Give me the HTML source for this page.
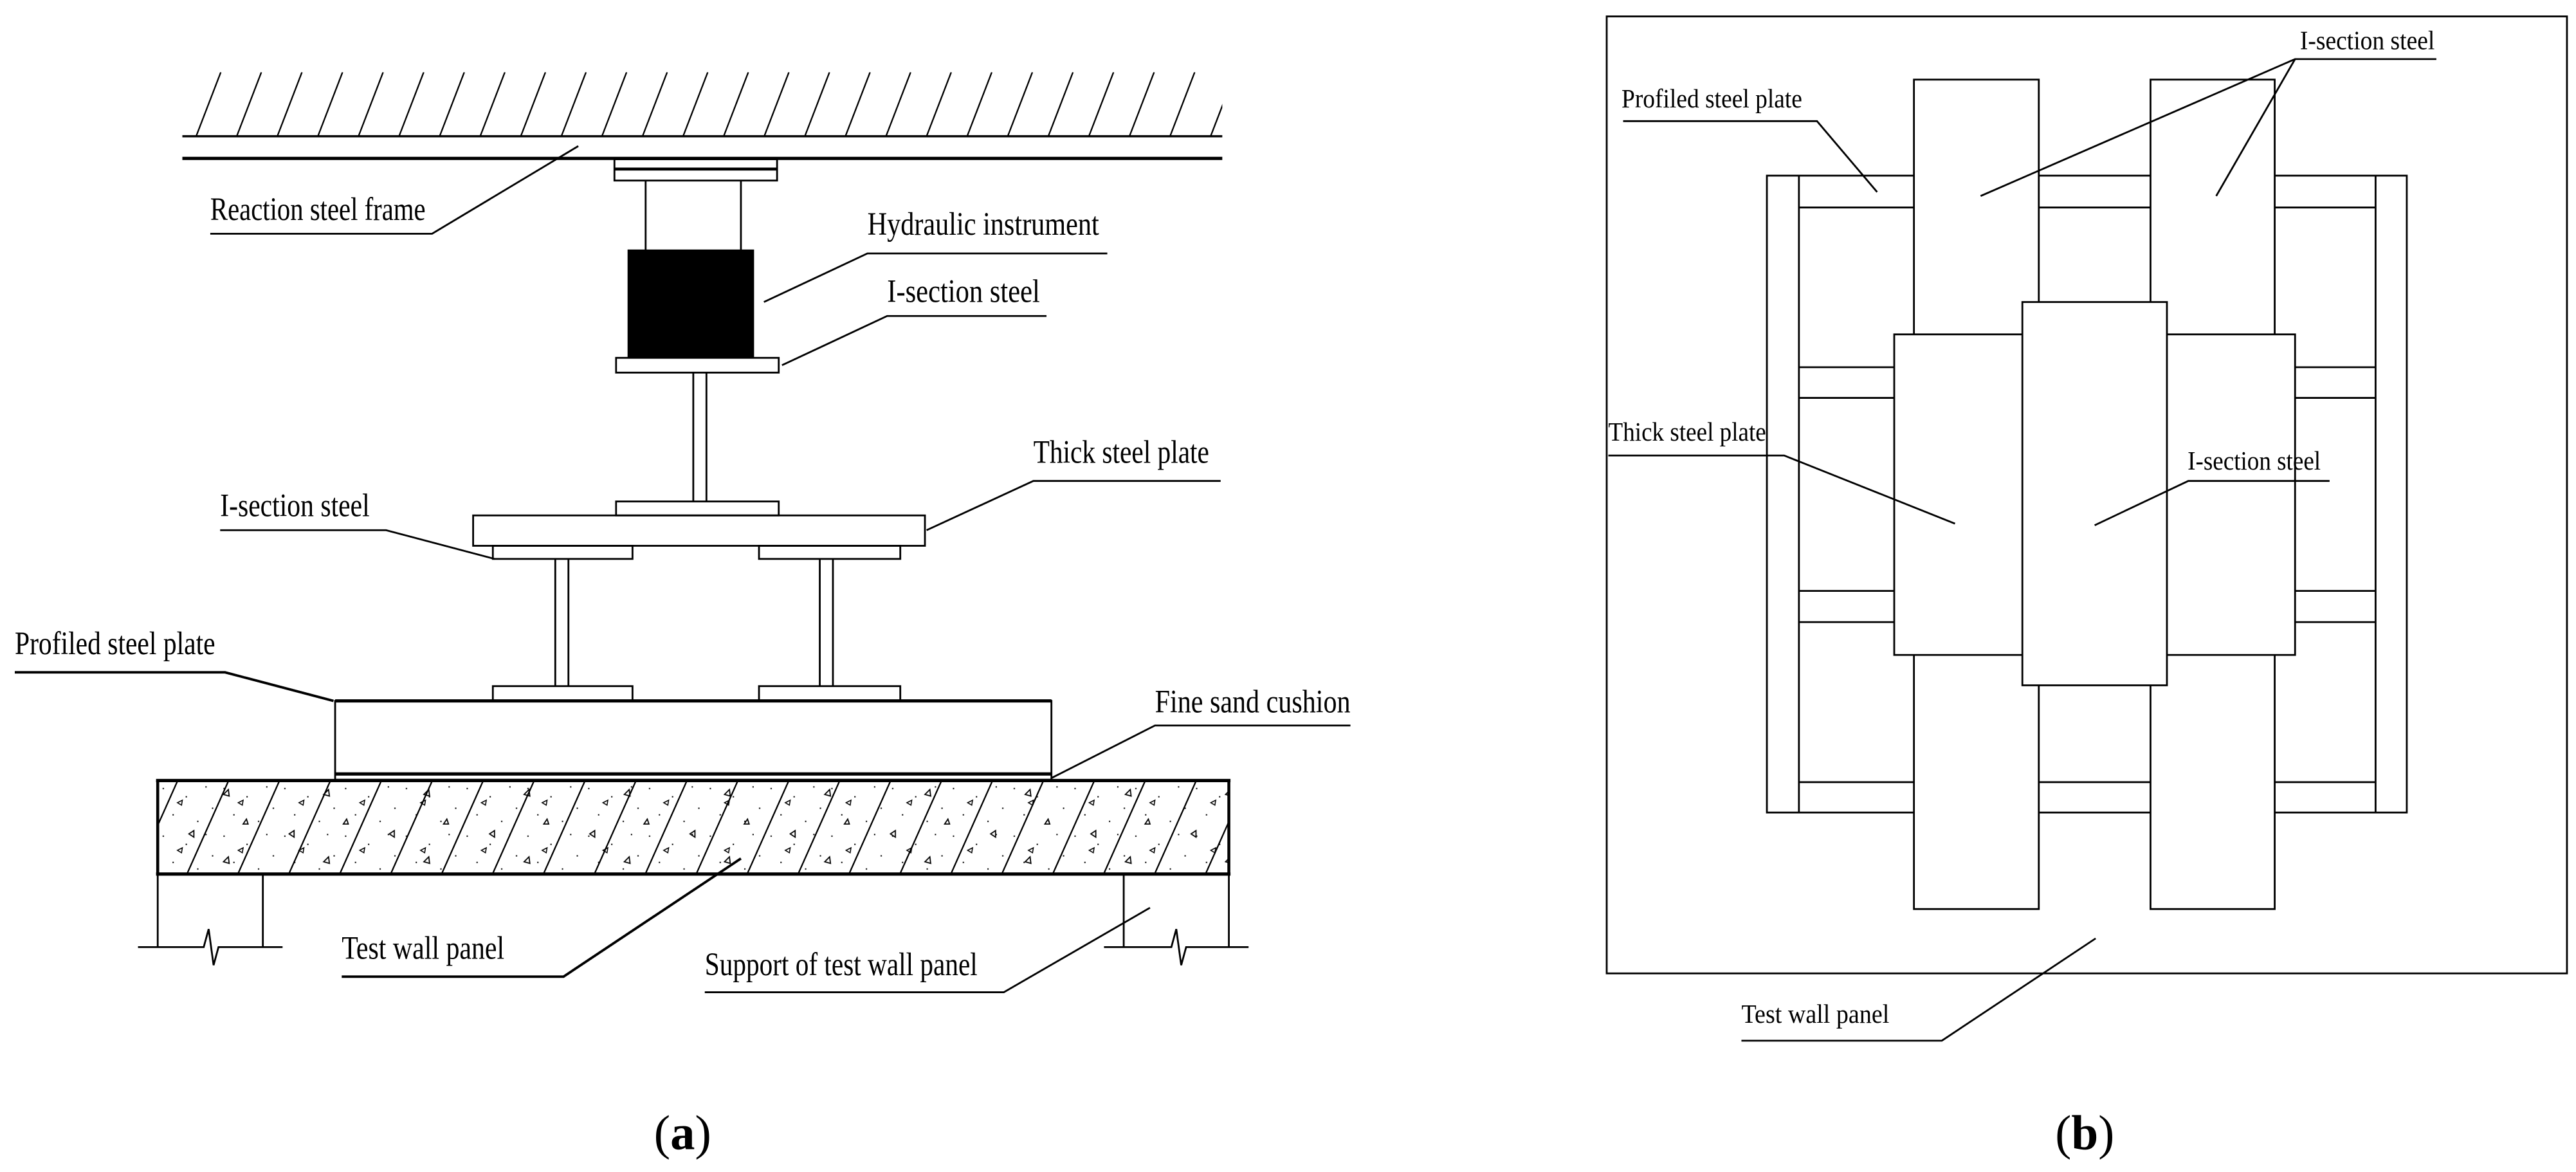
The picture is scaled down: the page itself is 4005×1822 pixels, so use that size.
<!DOCTYPE html>
<html><head><meta charset="utf-8"><style>
html,body{margin:0;padding:0;background:#fff;}
svg{display:block;}
text{font-family:"Liberation Serif",serif;fill:#000;}
</style></head><body>
<svg width="4005" height="1822" viewBox="0 0 1568 714" preserveAspectRatio="none" xmlns="http://www.w3.org/2000/svg">
<defs>
<clipPath id="ch"><rect x="111" y="44" width="633" height="39"/></clipPath>
<clipPath id="cw"><rect x="96" y="476" width="652" height="56"/></clipPath>
<pattern id="dots" x="96" y="476" width="37" height="29" patternUnits="userSpaceOnUse">
<rect x="3" y="4" width="0.8" height="0.8" fill="#000"/><rect x="17" y="9" width="0.8" height="0.8" fill="#000"/>
<rect x="29" y="3" width="0.8" height="0.8" fill="#000"/><rect x="9" y="20" width="0.8" height="0.8" fill="#000"/>
<rect x="24" y="24" width="0.8" height="0.8" fill="#000"/><rect x="33" y="16" width="0.8" height="0.8" fill="#000"/>
<path d="M12 13 l3 -1.5 l-0.5 3 z" fill="none" stroke="#000" stroke-width="0.6"/>
</pattern>
<pattern id="tri" x="96" y="476" width="61" height="41" patternUnits="userSpaceOnUse">
<path d="M40 8 l3 -3 l0.5 4 z M22 30 l-3 2 l3 2 z M52 26 l2 -3 l1 3 z" fill="none" stroke="#000" stroke-width="0.7"/>
</pattern>
</defs>
<g stroke="#000" fill="none" stroke-width="1.1">
<!-- top hatch -->
<g clip-path="url(#ch)" stroke-width="0.9">
<path d="M94.7 83 l15 -39 M119.4 83 l15 -39 M144.1 83 l15 -39 M168.8 83 l15 -39 M193.5 83 l15 -39 M218.2 83 l15 -39 M242.9 83 l15 -39 M267.6 83 l15 -39 M292.3 83 l15 -39 M317 83 l15 -39 M341.7 83 l15 -39 M366.4 83 l15 -39 M391.1 83 l15 -39 M415.8 83 l15 -39 M440.5 83 l15 -39 M465.2 83 l15 -39 M489.9 83 l15 -39 M514.6 83 l15 -39 M539.3 83 l15 -39 M564 83 l15 -39 M588.7 83 l15 -39 M613.4 83 l15 -39 M638.1 83 l15 -39 M662.8 83 l15 -39 M687.5 83 l15 -39 M712.2 83 l15 -39 M736.9 83 l15 -39"/>
</g>
<line x1="111" y1="83" x2="744" y2="83" stroke-width="1.3"/>
<line x1="111" y1="96.5" x2="744" y2="96.5" stroke-width="2"/>
<!-- top plate -->
<rect x="374" y="97" width="99" height="13"/>
<line x1="374" y1="103" x2="473" y2="103" stroke-width="1.8"/>
<line x1="393" y1="110" x2="393" y2="153"/><line x1="451" y1="110" x2="451" y2="153"/>
<rect x="382" y="152" width="77" height="66" fill="#000" stroke="none"/>
<rect x="375" y="218" width="99" height="9" fill="#fff"/>
<line x1="422" y1="227" x2="422" y2="305.5"/><line x1="430" y1="227" x2="430" y2="305.5"/>
<rect x="375" y="305.5" width="99" height="8.5"/>
<rect x="288" y="314" width="275" height="18.5"/>
<rect x="300" y="332.5" width="85" height="8"/><rect x="462" y="332.5" width="86" height="8"/>
<line x1="338" y1="340.5" x2="338" y2="418"/><line x1="346" y1="340.5" x2="346" y2="418"/>
<line x1="499" y1="340.5" x2="499" y2="418"/><line x1="507" y1="340.5" x2="507" y2="418"/>
<rect x="300" y="418" width="85" height="9"/><rect x="462" y="418" width="86" height="9"/>
<!-- profiled plate -->
<rect x="204" y="427" width="436" height="48"/>
<line x1="204" y1="427" x2="640" y2="427" stroke-width="2"/>
<line x1="204" y1="471.5" x2="640" y2="471.5" stroke-width="2"/>
<!-- wall panel -->
<rect x="96" y="476" width="652" height="56" fill="url(#dots)" stroke="none"/>
<rect x="96" y="476" width="652" height="56" fill="url(#tri)" stroke="none"/>
<g clip-path="url(#cw)" stroke-width="0.9">
<path d="M83 532 l25.4 -57 M114 532 l25.4 -57 M145 532 l25.4 -57 M176 532 l25.4 -57 M207 532 l25.4 -57 M238 532 l25.4 -57 M269 532 l25.4 -57 M300 532 l25.4 -57 M331 532 l25.4 -57 M362 532 l25.4 -57 M393 532 l25.4 -57 M424 532 l25.4 -57 M455 532 l25.4 -57 M486 532 l25.4 -57 M517 532 l25.4 -57 M548 532 l25.4 -57 M579 532 l25.4 -57 M610 532 l25.4 -57 M641 532 l25.4 -57 M672 532 l25.4 -57 M703 532 l25.4 -57 M734 532 l25.4 -57"/>
</g>
<line x1="96" y1="475.5" x2="96" y2="532.5" stroke-width="1.8"/>
<line x1="748" y1="475.5" x2="748" y2="532.5" stroke-width="1.8"/>
<line x1="95" y1="475.5" x2="749" y2="475.5" stroke-width="2"/>
<line x1="95" y1="532.5" x2="749" y2="532.5" stroke-width="2"/>
<!-- supports -->
<line x1="96" y1="532" x2="96" y2="577"/><line x1="160" y1="532" x2="160" y2="577"/>
<polyline points="84,577 124,577 127,566 130,588 133,577 172,577"/>
<line x1="684" y1="532" x2="684" y2="577"/><line x1="748" y1="532" x2="748" y2="577"/>
<polyline points="672,577 713,577 716,566 719,588 722,577 760,577"/>
<!-- leaders left -->
<polyline points="128,142.4 263,142.4 352,89"/>
<polyline points="674,154.4 528,154.4 465,184"/>
<polyline points="637,192.5 540,192.5 476,222.5"/>
<polyline points="743,293 629,293 564,323"/>
<polyline points="134,323 235,323 301,340.5"/>
<polyline points="9,409.6 137,409.6 203,427" stroke-width="1.5"/>
<polyline points="822,442 703,442 640,474"/>
<polyline points="208,595 343,595 451,523" stroke-width="1.5"/>
<polyline points="429,604.5 611,604.5 700,553"/>

<!-- right diagram -->
<rect x="978" y="10" width="584.5" height="583"/>
<rect x="1075.5" y="107" width="389.5" height="388"/>
<line x1="1095" y1="107" x2="1095" y2="495"/><line x1="1446" y1="107" x2="1446" y2="495"/>
<path d="M1095 126.4 H1446 M1095 223.7 H1446 M1095 242.4 H1446 M1095 360 H1446 M1095 379 H1446 M1095 476.5 H1446"/>
<rect x="1165" y="48.5" width="76" height="505.3" fill="#fff"/>
<rect x="1309" y="48.5" width="75.6" height="505.3" fill="#fff"/>
<rect x="1153" y="203.7" width="244" height="195.3" fill="#fff"/>
<rect x="1231" y="184" width="88" height="233.5" fill="#fff"/>
<polyline points="988,73.8 1106,73.8 1142.6,117"/>
<polyline points="1483,36 1397,36 1205.6,119.4"/>
<line x1="1397" y1="36" x2="1349" y2="119.4"/>
<polyline points="979,277.5 1086,277.5 1190,319"/>
<polyline points="1418,293 1332,293 1275,320"/>
<polyline points="1060,634 1182,634 1275.6,571.7"/>
</g>
<!-- labels left (condensed) -->
<g font-size="20">
<text x="128" y="134" textLength="131" lengthAdjust="spacingAndGlyphs">Reaction steel frame</text>
<text x="528" y="143" textLength="141" lengthAdjust="spacingAndGlyphs">Hydraulic instrument</text>
<text x="540" y="184" textLength="93" lengthAdjust="spacingAndGlyphs">I-section steel</text>
<text x="629" y="282" textLength="107" lengthAdjust="spacingAndGlyphs">Thick steel plate</text>
<text x="134" y="314.5" textLength="91" lengthAdjust="spacingAndGlyphs">I-section steel</text>
<text x="9" y="398.6" textLength="122" lengthAdjust="spacingAndGlyphs">Profiled steel plate</text>
<text x="703" y="434" textLength="119" lengthAdjust="spacingAndGlyphs">Fine sand cushion</text>
<text x="208" y="584" textLength="99" lengthAdjust="spacingAndGlyphs">Test wall panel</text>
<text x="429" y="594" textLength="166" lengthAdjust="spacingAndGlyphs">Support of test wall panel</text>
</g>
<g font-size="16">
<text x="987" y="65.5" textLength="110" lengthAdjust="spacingAndGlyphs">Profiled steel plate</text>
<text x="1400" y="30" textLength="82" lengthAdjust="spacingAndGlyphs">I-section steel</text>
<text x="979" y="268.5" textLength="96" lengthAdjust="spacingAndGlyphs">Thick steel plate</text>
<text x="1331.6" y="286" textLength="81" lengthAdjust="spacingAndGlyphs">I-section steel</text>
<text x="1060" y="623" textLength="90" lengthAdjust="spacingAndGlyphs">Test wall panel</text>
</g>
<text x="398" y="700" font-size="30" textLength="35" lengthAdjust="spacingAndGlyphs">(<tspan font-weight="bold">a</tspan>)</text>
<text x="1251" y="700" font-size="30" textLength="36" lengthAdjust="spacingAndGlyphs">(<tspan font-weight="bold">b</tspan>)</text>
</svg>
</body></html>
